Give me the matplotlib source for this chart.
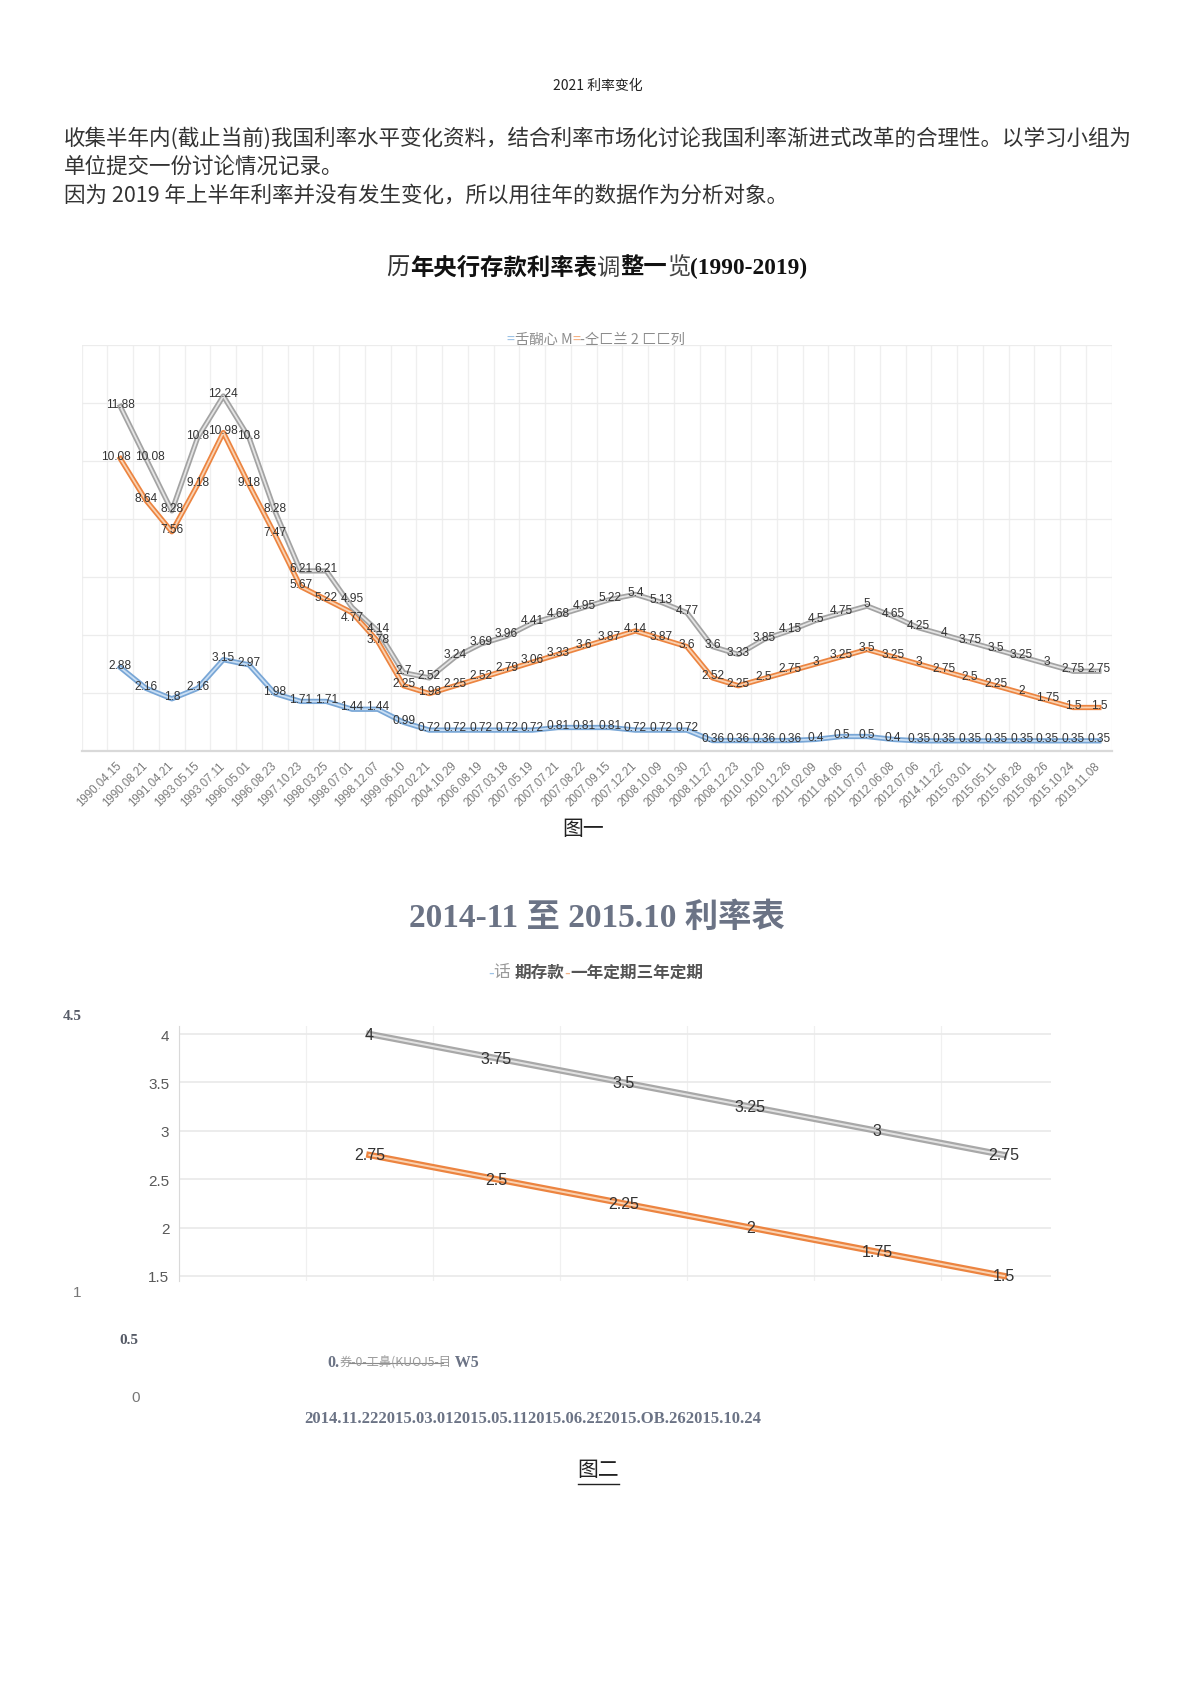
import matplotlib
matplotlib.use('Agg')
import matplotlib.pyplot as plt
from matplotlib.lines import Line2D
from matplotlib.ticker import FixedLocator

# ---------------- data ----------------
dates1 = ['1990.04.15', '1990.08.21', '1991.04.21', '1993.05.15', '1993.07.11', '1996.05.01',
          '1996.08.23', '1997.10.23', '1998.03.25', '1998.07.01', '1998.12.07', '1999.06.10',
          '2002.02.21', '2004.10.29', '2006.08.19', '2007.03.18', '2007.05.19', '2007.07.21',
          '2007.08.22', '2007.09.15', '2007.12.21', '2008.10.09', '2008.10.30', '2008.11.27',
          '2008.12.23', '2010.10.20', '2010.12.26', '2011.02.09', '2011.04.06', '2011.07.07',
          '2012.06.08', '2012.07.06', "2014.11.22'", '2015.03.01', '2015.05.11', '2015.06.28',
          '2015.08.26', '2015.10.24', '2019.11.08']
demand1 = [2.88, 2.16, 1.8, 2.16, 3.15, 2.97, 1.98, 1.71, 1.71, 1.44, 1.44, 0.99,
           0.72, 0.72, 0.72, 0.72, 0.72, 0.81, 0.81, 0.81, 0.72, 0.72, 0.72, 0.36,
           0.36, 0.36, 0.36, 0.4, 0.5, 0.5, 0.4, 0.35, 0.35, 0.35, 0.35, 0.35,
           0.35, 0.35, 0.35]
one_year1 = [10.08, 8.64, 7.56, 9.18, 10.98, 9.18, 7.47, 5.67, 5.22, 4.77, 3.78, 2.25,
             1.98, 2.25, 2.52, 2.79, 3.06, 3.33, 3.6, 3.87, 4.14, 3.87, 3.6, 2.52,
             2.25, 2.5, 2.75, 3, 3.25, 3.5, 3.25, 3, 2.75, 2.5, 2.25, 2, 1.75, 1.5, 1.5]
three_year1 = [11.88, 10.08, 8.28, 10.8, 12.24, 10.8, 8.28, 6.21, 6.21, 4.95, 4.14, 2.7,
               2.52, 3.24, 3.69, 3.96, 4.41, 4.68, 4.95, 5.22, 5.4, 5.13, 4.77, 3.6,
               3.33, 3.85, 4.15, 4.5, 4.75, 5, 4.65, 4.25, 4, 3.75, 3.5, 3.25, 3, 2.75, 2.75]

dates2 = ['2014.11.22', '2015.03.01', '2015.05.11', '2015.06.28', '2015.08.26', '2015.10.24']
one_year2 = [2.75, 2.5, 2.25, 2, 1.75, 1.5]
three_year2 = [4, 3.75, 3.5, 3.25, 3, 2.75]
yticks2 = [1.5, 2, 2.5, 3, 3.5, 4]

# ---------------- figure ----------------
W, H = 1190, 1683
fig = plt.figure(figsize=(W / 100, H / 100), dpi=100)
fig.patch.set_facecolor('white')
CJK = ['Noto Sans CJK SC', 'DejaVu Sans']
SERIF = ['Liberation Serif', 'Noto Sans CJK SC']
SANS = ['Liberation Sans', 'DejaVu Sans']


def fx(x):
    return x / W


def fy(y):
    return 1 - y / H


def mixed(pieces, xc, y, ha='center'):
    objs = [fig.text(0, fy(y), t, va='center', ha='left', **kw) for t, kw in pieces]
    fig.canvas.draw()
    r = fig.canvas.get_renderer()
    widths = [o.get_window_extent(r).width for o in objs]
    total = sum(widths)
    x0 = xc - total / 2 if ha == 'center' else xc
    spans = []
    for o, w in zip(objs, widths):
        o.set_x(fx(x0))
        spans.append((x0, x0 + w))
        x0 += w
    return spans


# header & paragraph
fig.text(fx(598), fy(86), '2021 利率变化', fontsize=10, family=CJK, color='#222',
         ha='center', va='center')
para = ['收集半年内(截止当前)我国利率水平变化资料，结合利率市场化讨论我国利率渐进式改革的合理性。以学习小组为',
        '单位提交一份讨论情况记录。',
        '因为 2019 年上半年利率并没有发生变化，所以用往年的数据作为分析对象。']
for i, line in enumerate(para):
    fig.text(fx(64), fy(138 + 29 * i), line, fontsize=15.5, family=CJK, color='#333',
             ha='left', va='center')

# chart 1 title
TS = 16.8
mixed([('历', dict(fontsize=TS, family=CJK, color='#333', fontweight='light')),
       ('年央行存款利率表', dict(fontsize=TS, family=CJK, color='#111', fontweight='bold')),
       ('调', dict(fontsize=TS, family=CJK, color='#444', fontweight='light')),
       ('整一', dict(fontsize=TS, family=CJK, color='#111', fontweight='bold')),
       ('览', dict(fontsize=TS, family=CJK, color='#444', fontweight='light')),
       ('(1990-2019)', dict(fontsize=TS, family=SERIF, color='#111', fontweight='bold'))],
      597, 268)

# chart 1 legend (as shown)
mixed([('=', dict(fontsize=10.3, family=CJK, color='#9dc3e6')),
       ('舌醐心 M', dict(fontsize=10.3, family=CJK, color='#8c8c8c', fontweight='light')),
       ('=', dict(fontsize=10.3, family=CJK, color='#f4b183')),
       ('-仝匚兰 2 匚匚列', dict(fontsize=10.3, family=CJK, color='#8c8c8c', fontweight='light'))],
      596, 340)

# ---------------- chart 1 ----------------
ax1 = fig.add_axes([fx(81.7), fy(752), 1030 / W, 406 / H])
n1 = len(dates1)
xs1 = list(range(n1))
ax1.set_xlim(-1.5, n1 - 0.5)
ax1.set_ylim(0, 14)
ax1.set_yticks(range(0, 15, 2))
ax1.set_yticklabels([])
ax1.tick_params(axis='y', length=0)
ax1.xaxis.set_minor_locator(FixedLocator([i - 0.5 for i in range(-1, n1 + 1)]))
ax1.grid(which='major', axis='y', color='#ececec', lw=0.9)
ax1.grid(which='minor', axis='x', color='#efefef', lw=0.9)
ax1.tick_params(axis='x', which='both', length=0)
for s in ['top', 'right', 'left']:
    ax1.spines[s].set_visible(False)
ax1.spines['bottom'].set_color('#d9d9d9')
ax1.spines['bottom'].set_linewidth(1.6)
ax1.set_axisbelow(True)

series1 = [(demand1, '#78a6d6', '#c9def3'),
           (one_year1, '#ec8440', '#f9d2b2'),
           (three_year1, '#a3a3a3', '#e4e4e4')]
for vals, outer, inner in series1:
    ax1.plot(xs1, vals, color=outer, lw=3.8, solid_joinstyle='round', zorder=3)
    ax1.plot(xs1, vals, color=inner, lw=1.3, solid_joinstyle='round', zorder=4)
for k, (vals, _, _) in enumerate(series1):
    for i, (x, v) in enumerate(zip(xs1, vals)):
        dx, dy = 0, 2
        if k == 2 and i == 9:
            dy = 7
        if k == 1 and i == 9:
            dy = -3
        if k == 1 and i == 0:
            dx = -3
        if k == 2 and i == 1:
            dx = 3
        ax1.annotate(f'{v:g}', (x, v), xytext=(dx, dy), textcoords='offset points',
                     ha='center', va='center', fontsize=8.6, color='#333333',
                     family=SANS, zorder=6)
ax1.set_xticks(xs1)
ax1.set_xticklabels(dates1, rotation=45, ha='right', va='center', rotation_mode='anchor',
                    fontsize=8.3, color='#7a7a7a', family=SANS)
ax1.tick_params(axis='x', which='major', pad=9)

fig.text(fx(583), fy(829), '图一', fontsize=15, family=CJK, color='#222',
         ha='center', va='center')

# ---------------- chart 2 ----------------
fig.text(fx(597), fy(918), '2014-11 至 2015.10 利率表', fontsize=24, family=SERIF,
         fontweight='bold', color='#6b7385', ha='center', va='center')
LS = 12
mixed([('-', dict(fontsize=LS, family=CJK, color='#9dc3e6')),
       ('话 ', dict(fontsize=LS, family=CJK, color='#999999', fontweight='light')),
       ('期存款', dict(fontsize=LS, family=CJK, color='#555555', fontweight='bold')),
       ('-', dict(fontsize=LS, family=CJK, color='#f4b183')),
       ('一年定期三年定期', dict(fontsize=LS, family=CJK, color='#555555', fontweight='bold'))],
      596, 973)

ax2 = fig.add_axes([fx(179), fy(1282), (1051 - 179) / W, (1282 - 1027) / H])
xs2 = list(range(len(dates2)))
ax2.set_xlim(-1.5, 5.37)
ax2.set_ylim(1.448, 4.083)
ax2.set_yticks(yticks2)
ax2.set_yticklabels([f'{t:g}' for t in yticks2], fontsize=11, color='#595959', family=SANS)
ax2.tick_params(axis='y', length=0, pad=7)
ax2.set_xticks([])
ax2.xaxis.set_minor_locator(FixedLocator([i - 0.5 for i in range(-1, 6)]))
ax2.tick_params(axis='x', which='both', length=0)
ax2.grid(which='major', axis='y', color='#e9e9e9', lw=1.2)
ax2.grid(which='minor', axis='x', color='#f0f0f0', lw=0.9)
for s in ['top', 'right', 'bottom']:
    ax2.spines[s].set_visible(False)
ax2.spines['left'].set_color('#d9d9d9')
ax2.set_axisbelow(True)
for vals, outer, inner in [(three_year2, '#a8a8a8', '#e2e2e2'),
                           (one_year2, '#ec8440', '#f9d2b2')]:
    ax2.plot(xs2, vals, color=outer, lw=4.6, zorder=3)
    ax2.plot(xs2, vals, color=inner, lw=1.4, zorder=4)
    for x, v in zip(xs2, vals):
        ax2.annotate(f'{v:g}', (x, v), ha='center', va='center', fontsize=11.5,
                     color='#333333', family=SANS, zorder=6)

# stray axis remnants below chart 2
fig.text(fx(72), fy(1017), '4.5', fontsize=11, family=SERIF, fontweight='bold',
         color='#555a66', ha='center', va='center')
fig.text(fx(77), fy(1293), '1', fontsize=11, family=SANS, color='#777777',
         ha='center', va='center')
fig.text(fx(129), fy(1341), '0.5', fontsize=11, family=SERIF, fontweight='bold',
         color='#555a66', ha='center', va='center')
fig.text(fx(136), fy(1398), '0', fontsize=11, family=SANS, color='#777777',
         ha='center', va='center')
spans = mixed([('0.', dict(fontsize=11.5, family=SERIF, fontweight='bold', color='#6b7385')),
               ('券-0-工鼻(KUOJ5-目', dict(fontsize=8.8, family=CJK, color='#9a9a9a')),
               (' W5', dict(fontsize=11.5, family=SERIF, fontweight='bold', color='#6b7385'))],
              403, 1363)
s0, s1 = spans[1]
fig.add_artist(Line2D([fx(s0 + 10), fx(s1 - 8)], [fy(1364), fy(1364)], color='#8a8a8a', lw=0.8))
fig.text(fx(533), fy(1419), ''.join(d if i != 3 else '2015.06.2£' for i, d in enumerate(dates2))
         .replace('2015.08.26', '2015.OB.26'),
         fontsize=12, family=SERIF, fontweight='bold', color='#6b7385', ha='center', va='center')
fig.text(fx(598), fy(1470), '图二', fontsize=15, family=CJK, color='#222',
         ha='center', va='center')
fig.add_artist(Line2D([fx(578), fx(619)], [fy(1485), fy(1485)], color='#222', lw=1))

fig.savefig('out.png', dpi=100, facecolor='white')
